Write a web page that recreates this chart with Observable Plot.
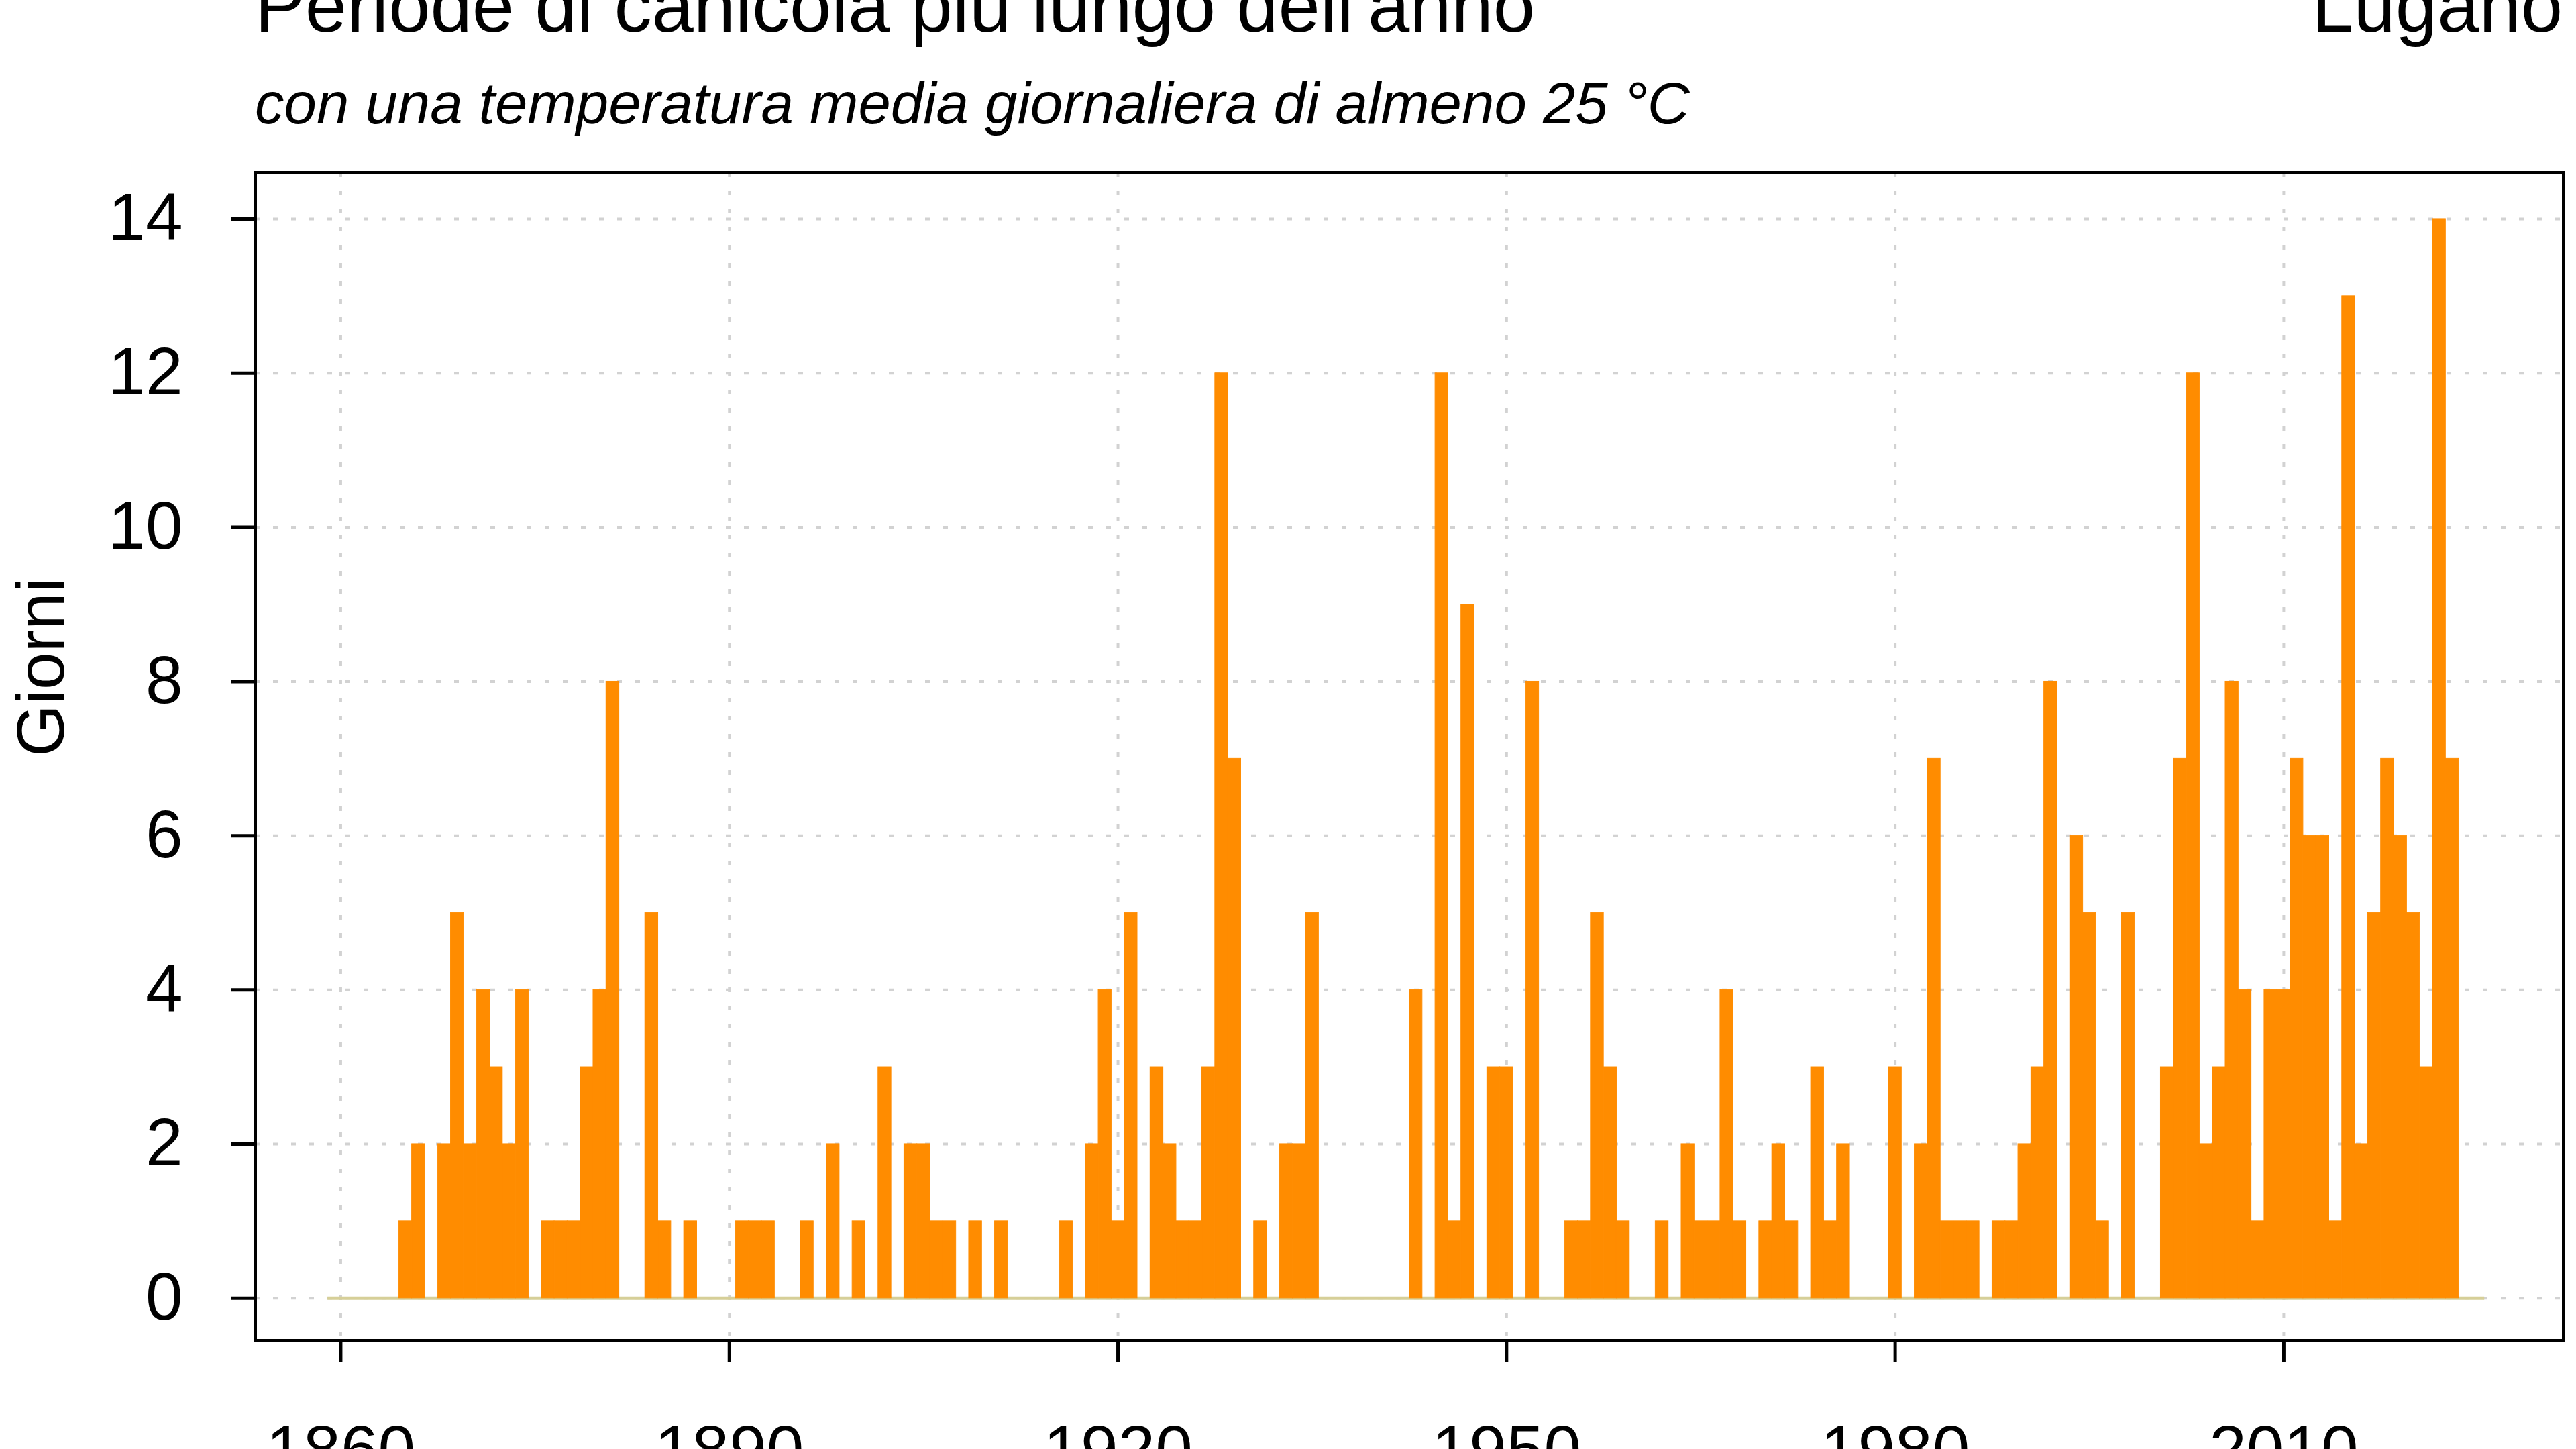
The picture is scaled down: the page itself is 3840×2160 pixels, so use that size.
<!DOCTYPE html>
<html>
<head>
<meta charset="utf-8">
<script src="https://cdn.jsdelivr.net/npm/d3@7"></script>
<script src="https://cdn.jsdelivr.net/npm/@observablehq/plot@0.6"></script>
<style>
  html, body { margin: 0; padding: 0; background: #fff; width: 3840px; height: 2160px; overflow: hidden;
    font-family: "Liberation Sans", Arial, Helvetica, sans-serif; color: #000; }
  .t { position: absolute; white-space: nowrap; }
  #title { left: 380px; top: -47px; font-size: 112px; line-height: 112px; }
  #place { right: 20px; top: -47px; font-size: 112px; line-height: 112px; }
  #subtitle { left: 380px; top: 110px; font-size: 87px; line-height: 87px; font-style: italic; }
  #chart { position: absolute; left: 0; top: 0; }
</style>
</head>
<body>
<div id="title" class="t">Periode di canicola più lungo dell'anno</div>
<div id="place" class="t">Lugano</div>
<div id="subtitle" class="t">con una temperatura media giornaliera di almeno 25 °C</div>
<div id="chart"></div>
<script>
// First year of the series; one value per year follows
const startYear = 1860;
// Longest heat period of the year (days), Lugano
const days1860s = [0, 0, 0, 0, 0, 1, 2, 0, 2, 5];
const days1870s = [2, 4, 3, 2, 4, 0, 1, 1, 1, 3];
const days1880s = [4, 8, 0, 0, 5, 1, 0, 1, 0, 0];
const days1890s = [0, 1, 1, 1, 0, 0, 1, 0, 2, 0];
const days1900s = [1, 0, 3, 0, 2, 2, 1, 1, 0, 1];
const days1910s = [0, 1, 0, 0, 0, 0, 1, 0, 2, 4];
const days1920s = [1, 5, 0, 3, 2, 1, 1, 3, 12, 7];
const days1930s = [0, 1, 0, 2, 2, 5, 0, 0, 0, 0];
const days1940s = [0, 0, 0, 4, 0, 12, 1, 9, 0, 3];
const days1950s = [3, 0, 8, 0, 0, 1, 1, 5, 3, 1];
const days1960s = [0, 0, 1, 0, 2, 1, 1, 4, 1, 0];
const days1970s = [1, 2, 1, 0, 3, 1, 2, 0, 0, 0];
const days1980s = [3, 0, 2, 7, 1, 1, 1, 0, 1, 1];
const days1990s = [2, 3, 8, 0, 6, 5, 1, 0, 5, 0];
const days2000s = [0, 3, 7, 12, 2, 3, 8, 4, 1, 4];
const days2010s = [4, 7, 6, 6, 1, 13, 2, 5, 7, 6];
const days2020s = [5, 3, 14, 7, 0, 0];

const xTicks = [1860, 1890, 1920, 1950, 1980, 2010];
const yTicks = [0, 2, 4, 6, 8, 10, 12, 14];

const days = [].concat(days1860s, days1870s, days1880s, days1890s, days1900s, days1910s,
  days1920s, days1930s, days1940s, days1950s, days1960s, days1970s, days1980s,
  days1990s, days2000s, days2010s, days2020s);
const data = days.map((v, i) => ({year: startYear + i, value: v}));
const firstYear = d3.min(data, d => d.year);
const lastYear = d3.max(data, d => d.year);

const orange = "#FF8C00";
const chart = Plot.plot({
  width: 3840,
  height: 2260,
  marginTop: 257,
  marginBottom: 262,
  marginLeft: 380,
  marginRight: 19,
  style: {fontFamily: "'Liberation Sans', Arial, Helvetica, sans-serif", fontSize: "100px", color: "#000", background: "transparent"},
  x: {domain: [1853.4, 2031.6]},
  y: {domain: [-0.55, 14.6]},
  marks: [
    Plot.ruleX(xTicks, {stroke: "#d2d2d2", strokeWidth: 4, strokeDasharray: "7,20"}),
    Plot.ruleY(yTicks, {stroke: "#d2d2d2", strokeWidth: 4, strokeDasharray: "7,20"}),
    Plot.ruleY([0], {x1: firstYear - 1, x2: lastYear + 0.5, stroke: "#d6cf98", strokeWidth: 5}),
    Plot.rectY(data.filter(d => d.value > 0), {
      x1: d => d.year - 0.5, x2: d => d.year + 0.5, y1: 0, y2: "value",
      fill: orange, stroke: orange, strokeWidth: 1, inset: 0
    }),
    Plot.frame({stroke: "#000", strokeWidth: 5}),
    Plot.axisX({ticks: xTicks, tickSize: 32, tickPadding: 93, tickFormat: d => String(d), strokeWidth: 5, label: null, fontSize: 100}),
    Plot.axisY({ticks: yTicks, tickSize: 35, tickPadding: 73, strokeWidth: 5, label: null, fontSize: 100}),
    Plot.text(["Giorni"], {frameAnchor: "left", dx: -318, rotate: -90, fontSize: 100})
  ]
});
document.getElementById("chart").appendChild(chart);
</script>
</body>
</html>
